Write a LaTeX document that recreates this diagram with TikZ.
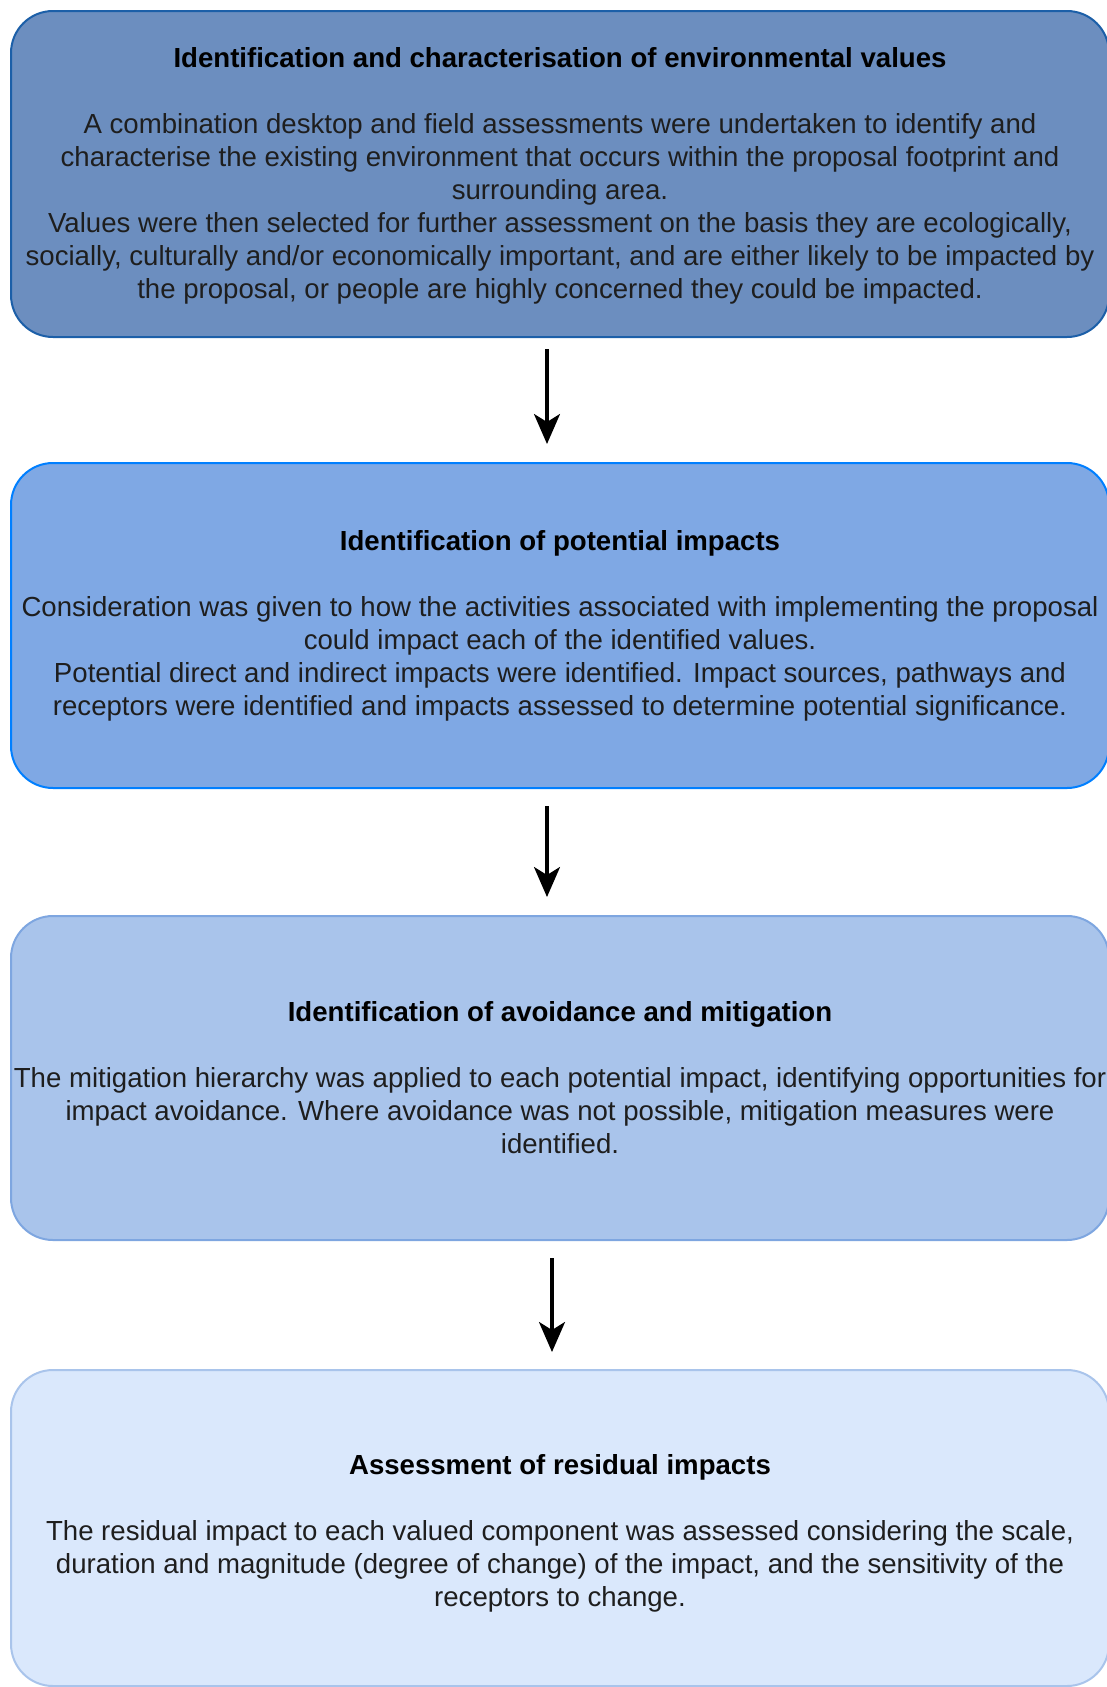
\documentclass[tikz,border=0pt]{standalone}
\usepackage{fontspec}
\setmainfont{Liberation Sans}
\usetikzlibrary{arrows.meta}
\definecolor{fillA}{HTML}{6C8EBF}
\definecolor{drawA}{HTML}{1C5FA8}
\definecolor{fillB}{HTML}{7FA8E4}
\definecolor{drawB}{HTML}{007FFF}
\definecolor{fillC}{HTML}{A9C4EB}
\definecolor{drawC}{HTML}{7EA6E0}
\definecolor{fillD}{HTML}{DAE8FC}
\definecolor{drawD}{HTML}{A9C4EB}
\definecolor{bodytext}{HTML}{1E1E1E}
\tikzset{
  stagebox/.style={rounded corners=21pt, line width=1pt, minimum width=549pt,
    inner sep=0pt, align=center, text=bodytext,
    font=\fontsize{13.8pt}{16.5pt}\selectfont},
  flowarrow/.style={line width=1.6pt, -{Stealth[length=15pt,width=13pt,inset=4pt]}}
}
\newcommand{\stagetitle}[2][0pt]{\rule{0pt}{#1}\textcolor{black}{\bfseries #2}\\[16.5pt]}
\begin{document}
\begin{tikzpicture}[x=0.5pt,y=-0.5pt]
\useasboundingbox (0,0) rectangle (1107,1687);
\clip (0,0) rectangle (1107,1687);
\node[stagebox, fill=fillA, draw=drawA, minimum height=163pt] (b1) at (560,174)
{\stagetitle[12pt]{Identification and characterisation of environmental values}
A combination desktop and field assessments were undertaken to identify and\\
characterise the existing environment that occurs within the proposal footprint and\\
surrounding area.\\
Values were then selected for further assessment on the basis they are ecologically,\\
socially, culturally and/or economically important, and are either likely to be impacted by\\
the proposal, or people are highly concerned they could be impacted.};
\node[stagebox, fill=fillB, draw=drawB, minimum height=162.5pt] (b2) at (560,625.5)
{\stagetitle{Identification of potential impacts}
Consideration was given to how the activities associated with implementing the proposal\\
could impact each of the identified values.\\
Potential direct and indirect impacts were identified. Impact sources, pathways and\\
receptors were identified and impacts assessed to determine potential significance.};
\node[stagebox, fill=fillC, draw=drawC, minimum height=162pt] (b3) at (560,1078)
{\stagetitle{Identification of avoidance and mitigation}
The mitigation hierarchy was applied to each potential impact, identifying opportunities for\\
impact avoidance. Where avoidance was not possible, mitigation measures were\\
identified.};
\node[stagebox, fill=fillD, draw=drawD, minimum height=158pt] (b4) at (560,1528)
{\stagetitle[15pt]{Assessment of residual impacts}
The residual impact to each valued component was assessed considering the scale,\\
duration and magnitude (degree of change) of the impact, and the sensitivity of the\\
receptors to change.};
\coordinate (x1) at (547,0);
\coordinate (x2) at (547,0);
\coordinate (x3) at (552,0);
\draw[flowarrow, shorten <=5.5pt, shorten >=9pt] (b1.south -| x1) -- (b2.north -| x1);
\draw[flowarrow, shorten <=8.5pt, shorten >=9pt] (b2.south -| x2) -- (b3.north -| x2);
\draw[flowarrow, shorten <=8.5pt, shorten >=8.5pt] (b3.south -| x3) -- (b4.north -| x3);
\end{tikzpicture}
\end{document}
